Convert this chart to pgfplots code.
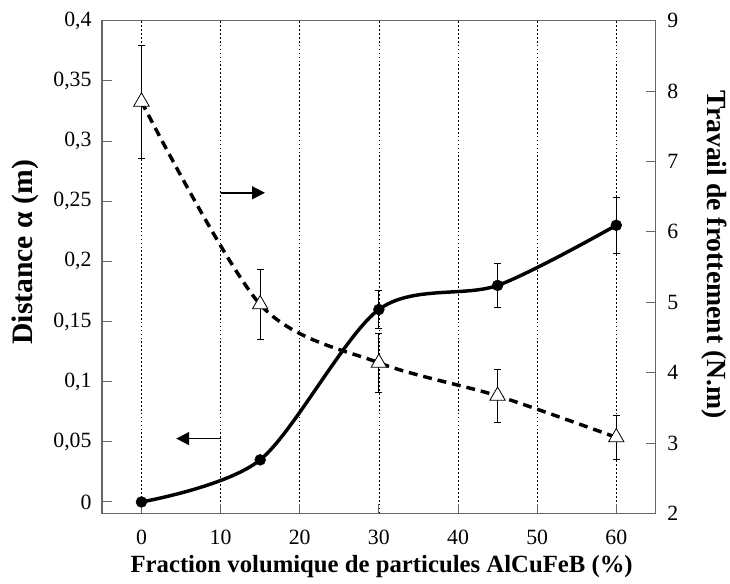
\documentclass[border=0pt]{standalone}
\usepackage{fontspec}
\setmainfont{Liberation Serif}
\usepackage{pgfplots}
\pgfplotsset{compat=1.18}
\usetikzlibrary{arrows.meta}
\begin{document}
\begin{tikzpicture}
\pgfplotsset{
  common/.style={
    width=560pt, height=498pt, scale only axis,
    xmin=-5, xmax=65,
    tick label style={font=\fontsize{22}{26}\selectfont},
    /pgf/number format/assume math mode=true,
    /pgf/number format/use comma,
    /pgf/number format/fixed,
    /pgf/number format/precision=2,
    axis line style={draw=black!60, line width=1.3pt},
    major tick length=10pt,
    tick style={draw=black!60, line width=1pt},
    tick align=inside,
  },
  ebars/.style={
    error bars/.cd, y dir=both, y explicit,
    error bar style={line width=0.8pt, black, solid},
    error mark=-,
    error mark options={rotate=90, line width=0.8pt, mark size=3.5pt, black, solid},
  },
}
\begin{axis}[common, name=main,
  ymin=-0.0095, ymax=0.4,
  ytick={0,0.05,0.1,0.15,0.2,0.25,0.3,0.35,0.4},
  xtick={0,10,20,30,40,50,60},
  xtick pos=bottom, ytick pos=left,
  xmajorgrids, grid style={dash pattern=on 1.8pt off 2.2pt, black, line width=0.6pt},
  xticklabel style={yshift=-13pt},
  yticklabel style={xshift=-7pt},
  ylabel={\textbf{Distance α (m)}},
  ylabel style={font=\fontsize{30}{34}\selectfont, at={(axis description cs:-0.139,0.53)}, anchor=center, rotate=0},
  xlabel={\textbf{Fraction volumique de particules AlCuFeB (\%)}},
  xlabel style={font=\fontsize{25}{29}\selectfont, at={(axis description cs:0.505,-0.108)}, anchor=center},
]
\addplot[black, line width=3.5pt, smooth, mark=*, mark size=5.5pt, mark options={solid, line width=0.5pt}, ebars]
coordinates {
(0,0) +- (0,0)
(15,0.035) +- (0,0)
(30,0.16) +- (0,0.016)
(45,0.18) +- (0,0.018)
(60,0.23) +- (0,0.0235)
};
\draw[line width=1.8pt, -{Triangle[length=13pt,width=13pt]}] (axis cs:10,0.257) -- (axis cs:15.6,0.257);
\draw[line width=1.8pt, -{Triangle[length=13pt,width=13pt]}] (axis cs:10,0.0527) -- (axis cs:4.4,0.0527);
\end{axis}
\begin{axis}[common,
  ymin=2, ymax=9,
  ytick={2,3,4,5,6,7,8,9},
  axis x line=none, axis y line*=right,
  yticklabel style={xshift=8pt},
  ylabel={\textbf{Travail de frottement (N.m)}},
  ylabel style={font=\fontsize{28}{32}\selectfont, at={(axis description cs:1.105,0.525)}, anchor=center, rotate=180},
]
\addplot[black, line width=3.5pt, smooth, dash pattern=on 9pt off 6pt,
  mark=triangle*, mark size=9pt, mark options={solid, fill=white, draw=black, line width=0.8pt}, ebars]
coordinates {
(0,7.85) +- (0,0.8)
(15,4.97) +- (0,0.5)
(30,4.14) +- (0,0.42)
(45,3.67) +- (0,0.37)
(60,3.08) +- (0,0.31)
};
\end{axis}
\path ([shift={(-103pt,-71pt)}]main.south west) rectangle ([shift={(67pt,21pt)}]main.north east);
\end{tikzpicture}
\end{document}
